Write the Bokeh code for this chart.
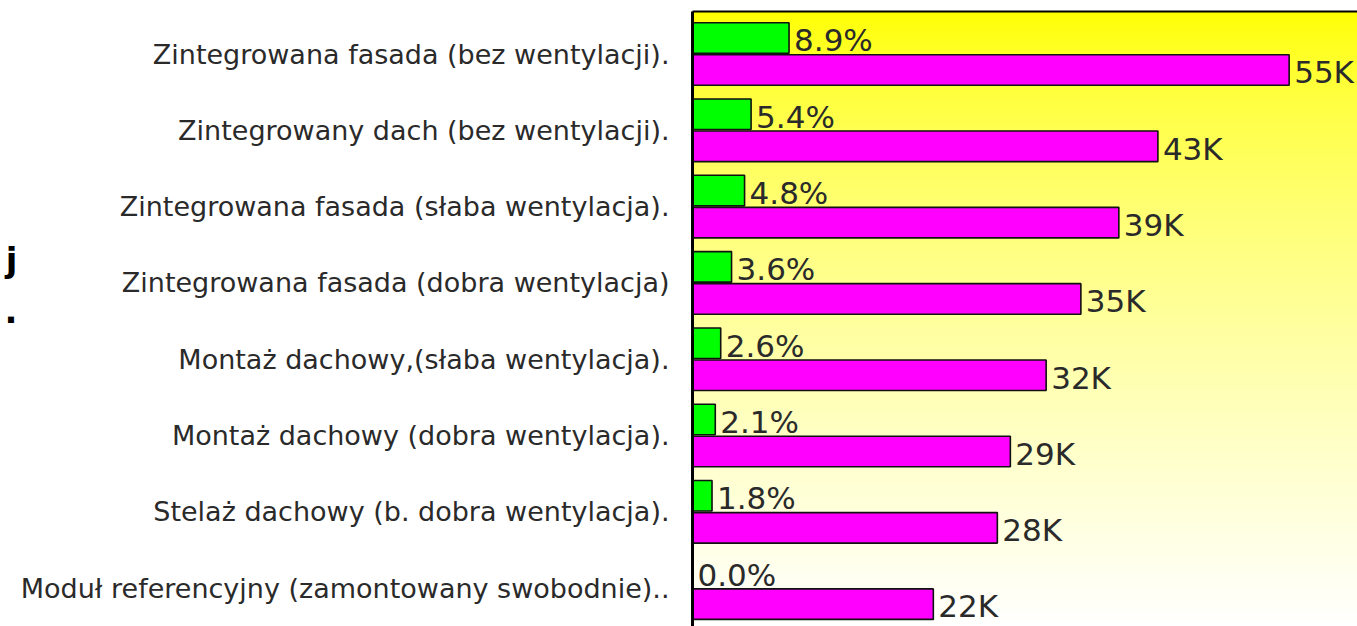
import numpy as np
from bokeh.plotting import figure
from bokeh.models import ColumnDataSource, FixedTicker, Range1d, LinearAxis
from bokeh.core.properties import value
from bokeh.embed import file_html
from bokeh.resources import INLINE

categories = [
    "Zintegrowana fasada (bez wentylacji).",
    "Zintegrowany dach (bez wentylacji).",
    "Zintegrowana fasada (słaba wentylacja).",
    "Zintegrowana fasada (dobra wentylacja)",
    "Montaż dachowy,(słaba wentylacja).",
    "Montaż dachowy (dobra wentylacja).",
    "Stelaż dachowy (b. dobra wentylacja).",
    "Moduł referencyjny (zamontowany swobodnie)..",
]
pct_values = [8.9, 5.4, 4.8, 3.6, 2.6, 2.1, 1.8, 0.0]
pct_labels = ["8.9%", "5.4%", "4.8%", "3.6%", "2.6%", "2.1%", "1.8%", "0.0%"]
k_values = [55.0, 42.9, 39.3, 35.8, 32.6, 29.3, 28.1, 22.2]
k_labels = ["55K", "43K", "39K", "35K", "32K", "29K", "28K", "22K"]
title_fragments = ["j", "."]

n = len(categories)
rows = [n - 1 - i for i in range(n)]

X_END = 61.3
Y_START, Y_END = -0.503, n - 1 + 0.557
BAR_H = 0.40
OFF = 0.21
FONT = "DejaVu Sans"
TXT = "#2a2a2a"

p = figure(width=1357, height=626, output_backend="svg", toolbar_location=None,
           x_range=Range1d(0, X_END), y_range=Range1d(Y_START, Y_END),
           min_border_left=692, min_border_top=11, min_border_right=0, min_border_bottom=0,
           x_axis_location=None, y_axis_location="left", background_fill_color="white",
           border_fill_color="white", outline_line_color=None)
p.grid.visible = False

# gradient background (yellow at top fading to white at bottom)
H, W = 240, 4
img = np.zeros((H, W), dtype=np.uint32)
view = img.view(dtype=np.uint8).reshape((H, W, 4))
for j in range(H):
    t = 1.0 - j / (H - 1)  # 0 at top, 1 at bottom
    b = int(255 * t ** 0.7)
    for i in range(W):
        view[j, i] = (255, 255, min(255, b), 255)
p.image_rgba(image=[img], x=0, y=Y_START, dw=X_END, dh=Y_END - Y_START)

src = ColumnDataSource(dict(
    row=rows, pct=pct_values, k=k_values, pl=pct_labels, kl=k_labels,
    yg=[r + OFF for r in rows], ym=[r - OFF for r in rows],
    ygt=[r + 0.177 for r in rows], ymt=[r - 0.24 for r in rows],
))

p.hbar(y="yg", left=0, right="pct", height=BAR_H, source=src,
       fill_color="#00ff00", line_color="#111111", line_width=1.6)
p.hbar(y="ym", left=0, right="k", height=BAR_H, source=src,
       fill_color="#ff00ff", line_color="#111111", line_width=1.6)

p.text(x="pct", y="ygt", text="pl", source=src, x_offset=5,
       text_font=value(FONT), text_font_size="31px", text_color=TXT,
       text_baseline="alphabetic", text_align="left")
p.text(x="k", y="ymt", text="kl", source=src, x_offset=5,
       text_font=value(FONT), text_font_size="31px", text_color=TXT,
       text_baseline="alphabetic", text_align="left")

ax = p.yaxis[0]
ax.ticker = FixedTicker(ticks=rows)
ax.major_label_overrides = {r: c for r, c in zip(rows, categories)}
ax.major_label_text_font = FONT
ax.major_label_text_font_size = "27px"
ax.major_label_text_color = TXT
ax.major_label_standoff = 17
ax.major_tick_line_color = None
ax.minor_tick_line_color = None
ax.axis_line_color = "black"
ax.axis_line_width = 3

top = LinearAxis(ticker=FixedTicker(ticks=[]), axis_line_color="black", axis_line_width=2,
                 major_tick_line_color=None, minor_tick_line_color=None,
                 major_label_text_font_size="0px")
p.add_layout(top, "above")

# cut-off bold title fragments at the far left, drawn as an extra (invisible) axis
frag_pos = [4.30, 3.63]
outer = LinearAxis(ticker=FixedTicker(ticks=frag_pos),
                   major_label_overrides={y: t for y, t in zip(frag_pos, title_fragments)},
                   axis_line_color=None, major_tick_line_color=None, minor_tick_line_color=None,
                   major_tick_out=0, major_tick_in=0, major_label_standoff=0,
                   major_label_text_font=FONT, major_label_text_font_style="bold",
                   major_label_text_font_size="34px", major_label_text_color="black")
p.add_layout(outer, "left")

open("out.html", "w").write(file_html(p, INLINE))
